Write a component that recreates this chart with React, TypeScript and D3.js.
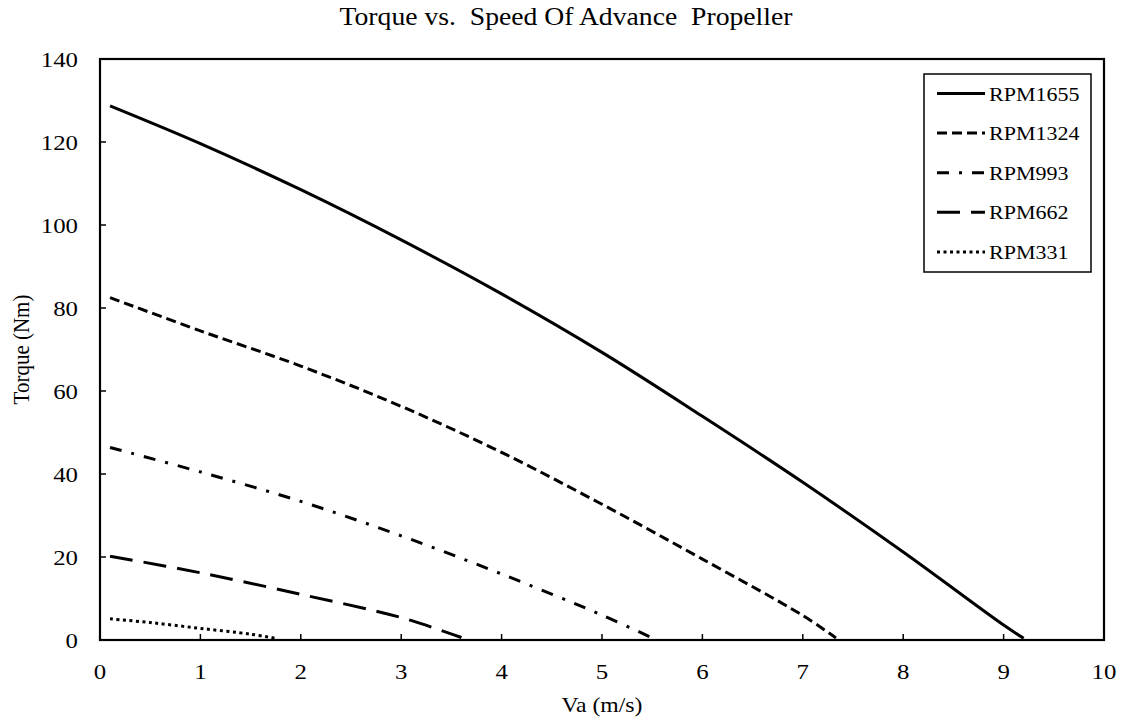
import React from "react";
import * as d3 from "d3";

const seriesNames = ["RPM1655", "RPM1324", "RPM993", "RPM662", "RPM331"];

const va1655 = [0.1, 1, 2, 3, 4, 5, 6, 7, 8, 9, 9.2];
const tq1655 = [128.7, 119.6, 108.5, 96.4, 83.4, 69.3, 53.9, 38.0, 21.2, 3.6, 0.4];

const va1324 = [0.1, 1, 2, 3, 4, 5, 6, 7, 7.33];
const tq1324 = [82.5, 74.5, 66.0, 56.3, 45.2, 32.7, 19.5, 5.9, 0.5];

const va993 = [0.1, 1, 2, 3, 4, 5, 5.5];
const tq993 = [46.4, 40.5, 33.4, 25.1, 15.9, 6.0, 0.5];

const va662 = [0.1, 1, 2, 3, 3.6];
const tq662 = [20.2, 16.2, 11.0, 5.4, 0.6];

const va331 = [0.1, 0.5, 1, 1.5, 1.75];
const tq331 = [5.1, 4.2, 2.8, 1.4, 0.4];

const xTicks = [0, 1, 2, 3, 4, 5, 6, 7, 8, 9, 10];
const yTicks = [0, 20, 40, 60, 80, 100, 120, 140];

const dashes = ["none", "10,5", "12,10,3,10", "23,11", "3,3.5"];

const W = 1122;
const H = 722;
const FONT = "'Liberation Serif', 'Times New Roman', serif";
const SX = 1.13;

function T({ x, y, anchor = "start", size, children, rotate = 0 }: any) {
  const tr = rotate
    ? `translate(${x},${y}) rotate(${rotate}) scale(${SX},1)`
    : `translate(${x},${y}) scale(${SX},1)`;
  return (
    <text transform={tr} textAnchor={anchor} fontSize={size} fill="#000" style={{ whiteSpace: "pre" }}>
      {children}
    </text>
  );
}

export default function App() {
  const left = 100, right = 1104, top = 59, bottom = 640;
  const x = d3.scaleLinear().domain([0, 10]).range([left, right]);
  const y = d3.scaleLinear().domain([0, 140]).range([bottom, top]);

  const vaAll = [va1655, va1324, va993, va662, va331];
  const tqAll = [tq1655, tq1324, tq993, tq662, tq331];
  const line = d3
    .line<[number, number]>()
    .x((d) => x(d[0]))
    .y((d) => y(d[1]))
    .curve(d3.curveCatmullRom.alpha(0.5));

  const legX = 924, legY = 74, legW = 167, legH = 198;
  const rowY0 = 93.5, rowStep = 39.6;

  return (
    <svg width={W} height={H} style={{ display: "block", position: "absolute", left: 0, top: 0, background: "#fff" }} fontFamily={FONT}>
      <rect x={0} y={0} width={W} height={H} fill="#fff" />
      <T x={566} y={25} anchor="middle" size={24.5}>
        {"Torque vs.  Speed Of Advance  Propeller"}
      </T>

      {vaAll.map((vs, i) => {
        const pts = vs.map((v, j) => [v, tqAll[i][j]] as [number, number]);
        return (
          <path
            key={seriesNames[i]}
            d={line(pts) || ""}
            fill="none"
            stroke="#000"
            strokeWidth={3}
            strokeDasharray={dashes[i]}
          />
        );
      })}

      {xTicks.map((t) => (
        <g key={"xt" + t}>
          <line x1={x(t)} x2={x(t)} y1={bottom} y2={bottom - 6} stroke="#000" strokeWidth={1.5} />
          <T x={x(t)} y={679} anchor="middle" size={22}>
            {String(t)}
          </T>
        </g>
      ))}
      {yTicks.map((t) => (
        <g key={"yt" + t}>
          <line x1={left} x2={left + 6} y1={y(t)} y2={y(t)} stroke="#000" strokeWidth={1.5} />
          <T x={78} y={y(t) + 7.5} anchor="end" size={22}>
            {String(t)}
          </T>
        </g>
      ))}

      <rect x={left} y={top} width={right - left} height={bottom - top} fill="none" stroke="#000" strokeWidth={2.2} />

      <T x={602} y={712} anchor="middle" size={21}>
        Va (m/s)
      </T>
      <text
        transform={`translate(29,${(top + bottom) / 2}) rotate(-90) scale(1,${SX})`}
        textAnchor="middle"
        fontSize={21}
        fill="#000"
      >
        Torque (Nm)
      </text>

      <rect x={legX} y={legY} width={legW} height={legH} fill="#fff" stroke="#000" strokeWidth={1.5} />
      {seriesNames.map((n, i) => {
        const ry = rowY0 + i * rowStep;
        return (
          <g key={"lg" + n}>
            <line x1={937} x2={985} y1={ry} y2={ry} stroke="#000" strokeWidth={3} strokeDasharray={dashes[i]} />
            <T x={989} y={ry + 7} size={19.5}>
              {n}
            </T>
          </g>
        );
      })}
    </svg>
  );
}
